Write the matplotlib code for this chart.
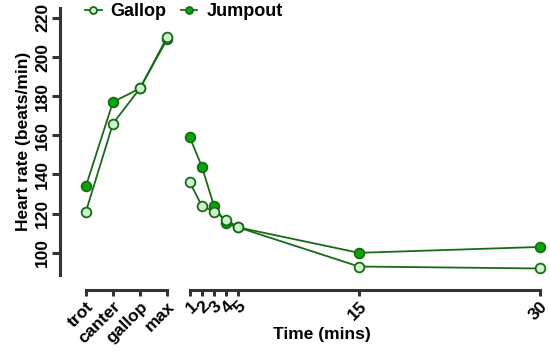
import matplotlib

matplotlib.use("Agg")
import matplotlib.pyplot as plt

plt.rcParams["font.family"] = ["Liberation Sans", "DejaVu Sans"]
plt.rcParams["font.weight"] = "bold"

# exercise phase
exercise_labels = ["trot", "canter", "gallop", "max"]
gallop_exercise = [121, 166, 184, 210]
jumpout_exercise = [134, 177, 184, 209]

# recovery phase
recovery_mins = [1, 2, 3, 4, 5, 15, 30]
gallop_recovery = [136, 124, 121, 117, 113, 93, 92]
jumpout_recovery = [159, 144, 124, 115, 113, 100, 103]

y_ticks = [100, 120, 140, 160, 180, 200, 220]

LINE = "#176b17"
GALLOP_FILL = "#cdf3cd"
JUMPOUT_FILL = "#0aa50a"
AXIS = "#333333"

fig = plt.figure(figsize=(5.5, 3.58), dpi=100)
ax1 = fig.add_axes([0.109, 0.232, 0.204, 0.746])
ax2 = fig.add_axes([0.336, 0.232, 0.655, 0.746], sharey=ax1)

style = dict(color=LINE, lw=1.3, marker="o", ms=7, mec=LINE, mew=1.3, clip_on=False)
x_ex = list(range(len(exercise_labels)))

ax1.plot(x_ex, jumpout_exercise, mfc=JUMPOUT_FILL, **style)
ax1.plot(x_ex, gallop_exercise, mfc=GALLOP_FILL, **style)
ax2.plot(recovery_mins, jumpout_recovery, mfc=JUMPOUT_FILL, **style)
ax2.plot(recovery_mins, gallop_recovery, mfc=GALLOP_FILL, **style)

ax1.set_ylim(88.7, 225.1)
ax1.set_xlim(-0.96, 3.19)
ax2.set_xlim(0.586, 30.41)

for ax in (ax1, ax2):
    for side in ("top", "right"):
        ax.spines[side].set_visible(False)
    for side in ("left", "bottom"):
        ax.spines[side].set_linewidth(2.2)
        ax.spines[side].set_color(AXIS)
    ax.spines["bottom"].set_position(("outward", 10.8))
    ax.tick_params(width=2.2, length=6, color=AXIS, labelsize=12.5, direction="out", pad=1)
    ax.tick_params(axis="x", length=4.5, pad=2)

ax1.spines["bottom"].set_bounds(0, 3)
ax1.set_xticks(x_ex)
ax1.set_xticklabels(exercise_labels, rotation=45, ha="right", rotation_mode="anchor")
ax1.set_yticks(y_ticks)
ax1.set_yticklabels([str(v) for v in y_ticks], rotation=90, va="center")
ax1.set_ylabel("Heart rate (beats/min)", fontsize=12.5, fontweight="bold", labelpad=3)

ax2.spines["left"].set_visible(False)
ax2.tick_params(axis="y", left=False, labelleft=False)
ax2.spines["bottom"].set_bounds(1, 30)
ax2.set_xticks(recovery_mins)
ax2.set_xticklabels([str(v) for v in recovery_mins], rotation=45, ha="right", rotation_mode="anchor")
ax2.set_xlabel("Time (mins)", fontsize=12.5, fontweight="bold")
ax2.xaxis.set_label_coords(0.38, -0.195)

h_g, = ax1.plot([], [], mfc=GALLOP_FILL, **{**style, "ms": 5})
h_j, = ax1.plot([], [], mfc=JUMPOUT_FILL, **{**style, "ms": 5})
fig.legend([h_g, h_j], ["Gallop", "Jumpout"], loc="center left", bbox_to_anchor=(0.155, 0.967),
           ncol=2, frameon=False, fontsize=13, handlelength=0.9, handletextpad=0.5,
           columnspacing=0.8, borderpad=0, borderaxespad=0)

fig.savefig("out.png", dpi=100)
